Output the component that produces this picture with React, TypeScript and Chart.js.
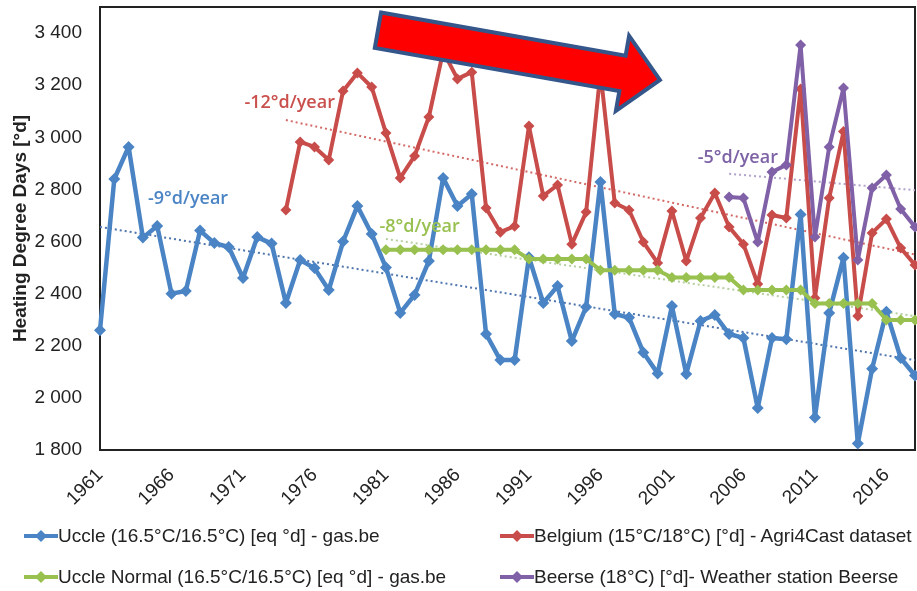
import React, { useEffect, useRef } from "react";
import { Chart, registerables } from "chart.js";

Chart.register(...registerables);

// ---------- data ----------
const years = [
  "1961", "1962", "1963", "1964", "1965", "1966", "1967", "1968", "1969", "1970",
  "1971", "1972", "1973", "1974", "1975", "1976", "1977", "1978", "1979", "1980",
  "1981", "1982", "1983", "1984", "1985", "1986", "1987", "1988", "1989", "1990",
  "1991", "1992", "1993", "1994", "1995", "1996", "1997", "1998", "1999", "2000",
  "2001", "2002", "2003", "2004", "2005", "2006", "2007", "2008", "2009", "2010",
  "2011", "2012", "2013", "2014", "2015", "2016", "2017", "2018",
];

// Uccle (16.5°C/16.5°C) [eq °d] - gas.be, 1961-2018
const uccleValues = [
  2260, 2840, 2963, 2615, 2660, 2400, 2410, 2642, 2594, 2579,
  2460, 2617, 2592, 2364, 2529, 2498, 2414, 2600, 2736, 2629,
  2500, 2326, 2395, 2525, 2844, 2736, 2782, 2245, 2145, 2145,
  2540, 2364, 2429, 2218, 2349, 2828, 2322, 2308, 2174, 2094,
  2353, 2092, 2295, 2318, 2245, 2230, 1961, 2230, 2225, 2704,
  1925, 2326, 2538, 1825, 2112, 2331, 2153, 2086,
];

// Belgium (15°C/18°C) [°d] - Agri4Cast dataset, 1974-2018
const belgiumStartYear = "1974";
const belgiumValues = [
  2721, 2982, 2963, 2913, 3178, 3247, 3193, 3016, 2844, 2928,
  3078, 3330, 3224, 3250, 2729, 2636, 2659, 3043, 2775, 2817,
  2590, 2713, 3250, 2748, 2721, 2598, 2518, 2717, 2525, 2690,
  2786, 2656, 2590, 2437, 2702, 2690, 3185, 2383, 2767, 3022,
  2314, 2633, 2686, 2575, 2510,
];

// Uccle Normal (16.5°C/16.5°C) [eq °d] - gas.be, 1981-2018
const normalStartYear = "1981";
const normalValues = [
  2568, 2568, 2568, 2568, 2568, 2568, 2568, 2568, 2568, 2568,
  2533, 2533, 2533, 2533, 2533, 2490, 2490, 2490, 2490, 2490,
  2462, 2462, 2462, 2462, 2462, 2414, 2414, 2414, 2414, 2414,
  2362, 2362, 2362, 2362, 2362, 2299, 2299, 2299,
];

// Beerse (18°C) [°d]- Weather station Beerse, 2005-2018
const beerseStartYear = "2005";
const beerseValues = [
  2771, 2767, 2598, 2867, 2894, 3354, 2617, 2963, 3189, 2529,
  2805, 2855, 2725, 2656,
];

// linear trend lines: [start year, start value, end year, end value]
const uccleTrend = ["1961", 2656, "2018", 2145];
const belgiumTrend = ["1974", 3066, "2018", 2550];
const normalTrend = ["1981", 2610, "2018", 2314];
const beerseTrend = ["2005", 2860, "2018", 2797];

// trend annotations: text, year index position, value
const trendLabels = ["-9°d/year", "-12°d/year", "-8°d/year", "-5°d/year"];
const trendLabelX = [3.35, 10.1, 19.55, 41.8];
const trendLabelY = [2763, 3131, 2656, 2920];

const yTickValues = [1800, 2000, 2200, 2400, 2600, 2800, 3000, 3200, 3400];

// red arrow: tail centre and tip in (year index, value)
const arrowTail = [19.44, 3411];
const arrowTip = [39.16, 3220];

const legendLabels = [
  "Uccle (16.5°C/16.5°C) [eq °d] - gas.be",
  "Belgium (15°C/18°C) [°d] - Agri4Cast dataset",
  "Uccle Normal (16.5°C/16.5°C) [eq °d] - gas.be",
  "Beerse (18°C) [°d]- Weather station Beerse",
];

// ---------- styles ----------
const BLUE = "#4a84c4";
const RED = "#c84c49";
const GREEN = "#98c150";
const PURPLE = "#8061a7";
const FONT = "'Liberation Sans', Arial, sans-serif";
const TEXT = "#222222";

const series = (start: string, values: number[]) => {
  const s = years.indexOf(start);
  return values.map((v, i) => ({ x: years[s + i], y: v }));
};
const trend = (t: (string | number)[]) => [
  { x: t[0] as string, y: t[1] as number },
  { x: t[2] as string, y: t[3] as number },
];
const fmt = (v: number) => String(v).replace(/\B(?=(\d{3})+(?!\d))/g, " ");

const framePlugin = {
  id: "frame",
  beforeDatasetsDraw(chart: any) {
    const { ctx, chartArea: a } = chart;
    ctx.save();
    ctx.strokeStyle = "#222";
    ctx.lineWidth = 2;
    ctx.strokeRect(a.left, a.top, a.right - a.left, a.bottom - a.top);
    ctx.restore();
  },
};

const annotationPlugin = {
  id: "annotations",
  afterDatasetsDraw(chart: any) {
    const { ctx } = chart;
    const xs = chart.scales.x;
    const ys = chart.scales.y;
    ctx.save();
    // trend labels
    const colors = [BLUE, "#c9504d", GREEN, "#7e62a6"];
    ctx.font = "600 18px 'Open Sans', sans-serif";
    ctx.textAlign = "left";
    ctx.textBaseline = "middle";
    trendLabels.forEach((t, i) => {
      ctx.fillStyle = colors[i];
      ctx.fillText(t, xs.getPixelForValue(trendLabelX[i]), ys.getPixelForValue(trendLabelY[i]));
    });
    // arrow
    const tx = xs.getPixelForValue(arrowTail[0]);
    const ty = ys.getPixelForValue(arrowTail[1]);
    const px = xs.getPixelForValue(arrowTip[0]);
    const py = ys.getPixelForValue(arrowTip[1]);
    const len = Math.hypot(px - tx, py - ty);
    const ux = (px - tx) / len, uy = (py - ty) / len;
    const nx = -uy, ny = ux;
    const bh = 18, hl = 38, hh = 38;
    const bx = px - ux * hl, by = py - uy * hl;
    ctx.beginPath();
    ctx.moveTo(tx - nx * bh, ty - ny * bh);
    ctx.lineTo(bx - nx * bh, by - ny * bh);
    ctx.lineTo(bx - nx * hh, by - ny * hh);
    ctx.lineTo(px, py);
    ctx.lineTo(bx + nx * hh, by + ny * hh);
    ctx.lineTo(bx + nx * bh, by + ny * bh);
    ctx.lineTo(tx + nx * bh, ty + ny * bh);
    ctx.closePath();
    ctx.fillStyle = "#ff0000";
    ctx.fill();
    ctx.lineWidth = 4;
    ctx.lineJoin = "miter";
    ctx.strokeStyle = "#34568b";
    ctx.stroke();
    ctx.restore();
  },
};

function Marker({ color }: { color: string }) {
  return (
    <svg width="34" height="16" style={{ display: "block", flex: "0 0 auto" }}>
      <line x1="0" y1="8" x2="34" y2="8" stroke={color} strokeWidth="4" />
      <polygon points="17,2 23,8 17,14 11,8" fill={color} />
    </svg>
  );
}

export default function App() {
  const ref = useRef<HTMLCanvasElement>(null);

  useEffect(() => {
    document.body.style.margin = "0";
    const line = (label: string, data: any[], color: string, width: number, radius: number, order: number) => ({
      label,
      data,
      borderColor: color,
      backgroundColor: color,
      borderWidth: width,
      borderJoinStyle: "round",
      borderCapStyle: "round",
      pointStyle: "rectRot",
      pointRadius: radius,
      pointBorderWidth: 0,
      pointBackgroundColor: color,
      tension: 0,
      order,
    });
    const dotted = (data: any[], color: string) => ({
      label: "",
      data,
      borderColor: color,
      borderWidth: 2,
      borderDash: [2, 3],
      pointRadius: 0,
      order: 10,
    });
    const chart = new Chart(ref.current!, {
      type: "line",
      data: {
        labels: years,
        datasets: [
          line(legendLabels[0], series(years[0], uccleValues), BLUE, 4.5, 6, 4) as any,
          line(legendLabels[1], series(belgiumStartYear, belgiumValues), RED, 4, 5.5, 3),
          line(legendLabels[2], series(normalStartYear, normalValues), GREEN, 4, 5.5, 2),
          line(legendLabels[3], series(beerseStartYear, beerseValues), PURPLE, 4, 5.5, 1),
          dotted(trend(uccleTrend), "#4f75ad"),
          dotted(trend(belgiumTrend), "#d46a66"),
          dotted(trend(normalTrend), "#b5cfa0"),
          dotted(trend(beerseTrend), "#b3a2cc"),
        ],
      },
      options: {
        responsive: false,
        animation: false,
        events: [],
        layout: { autoPadding: false, padding: { top: 7, right: 2, left: 0, bottom: 0 } },
        plugins: { legend: { display: false }, tooltip: { enabled: false } },
        scales: {
          x: {
            type: "category",
            offset: false,
            grid: { display: false, drawTicks: false },
            border: { display: false },
            ticks: {
              autoSkip: false,
              minRotation: 45,
              maxRotation: 45,
              padding: 14,
              color: TEXT,
              font: { family: FONT, size: 19 },
              callback: (_v: any, i: number) => (i % 5 === 0 ? years[i] : null),
            },
            afterFit: (s: any) => {
              s.height = 141;
              s.paddingLeft = 0;
              s.paddingRight = 0;
            },
          },
          y: {
            min: 1800,
            max: 3500,
            grid: { display: false, drawTicks: false },
            border: { display: false },
            ticks: {
              padding: 18,
              color: TEXT,
              font: { family: FONT, size: 19 },
              callback: (v: any) => fmt(Number(v)),
            },
            afterBuildTicks: (s: any) => {
              s.ticks = yTickValues.map((v) => ({ value: v }));
            },
            afterFit: (s: any) => {
              s.width = 100;
              s.paddingTop = 0;
              s.paddingBottom = 0;
            },
            title: {
              display: true,
              text: "Heating Degree Days [°d]",
              color: TEXT,
              font: { family: FONT, size: 19, weight: "bold" },
              padding: { top: 9, bottom: 0 },
            },
          },
        },
      },
      plugins: [framePlugin, annotationPlugin],
    } as any);
    return () => chart.destroy();
  }, []);

  const colors = [BLUE, RED, GREEN, PURPLE];
  const pos = [
    { left: 24, top: 536 },
    { left: 500, top: 536 },
    { left: 24, top: 577 },
    { left: 500, top: 577 },
  ];

  return (
    <div style={{ position: "absolute", left: 0, top: 0, width: 917, height: 591, background: "#fff", overflow: "hidden" }}>
      <canvas ref={ref} width={917} height={591} style={{ position: "absolute", left: 0, top: 0 }} />
      {legendLabels.map((l, i) => (
        <div
          key={l}
          style={{
            position: "absolute",
            left: pos[i].left,
            top: pos[i].top - 12,
            height: 24,
            display: "flex",
            alignItems: "center",
            whiteSpace: "nowrap",
            fontFamily: FONT,
            fontSize: 19,
            color: TEXT,
          }}
        >
          <Marker color={colors[i]} />
          <span>{l}</span>
        </div>
      ))}
    </div>
  );
}
